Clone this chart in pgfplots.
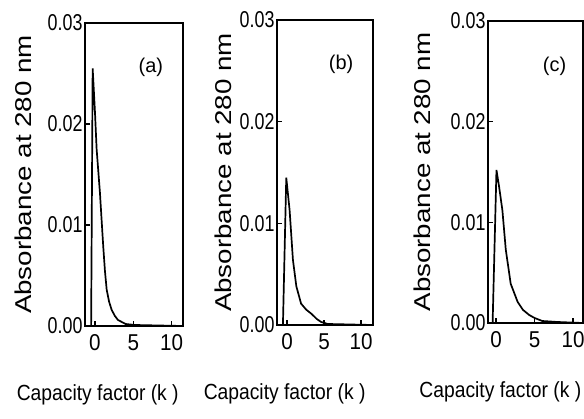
\documentclass[border=0pt]{standalone}
\usepackage{fontspec}
\setmainfont{Liberation Sans}
\usepackage{graphicx}
\usepackage{pgfplots}
\pgfplotsset{compat=1.18}

\pgfplotsset{
  panel/.style={
    scale only axis, anchor=south west,
    ymin=0, ymax=0.03,
    ytick={0,0.01,0.02,0.03}, xtick={0,5,10},
    axis line style={line width=1.8bp},
    tick style={line width=1.4bp, black},
    major tick length=5bp,
    tick align=inside,
    xtick pos=bottom, ytick pos=left,
    /pgf/number format/assume math mode=true,
    scaled y ticks=false,
    yticklabel={\scalebox{0.78}[1]{\pgfmathprintnumber[fixed,fixed zerofill,precision=2]{\tick}}},
    xticklabel={\scalebox{0.9}[1]{\pgfmathprintnumber{\tick}}},
    yticklabel style={font=\fontsize{23}{26}\selectfont, xshift=1bp},
    xticklabel style={font=\fontsize{23}{26}\selectfont, yshift=-5bp},
    xlabel={\scalebox{0.88}[1]{Capacity factor (k )}},
    ylabel={\scalebox{1.21}[1]{Absorbance at 280 nm}},
    xlabel style={font=\fontsize{22}{26}\selectfont, anchor=base, yshift=-74bp},
    ylabel style={font=\fontsize{23}{26}\selectfont, anchor=center},
  },
  curve/.style={black, line width=1.7bp, no marks},
}

\begin{document}
\begin{tikzpicture}
\useasboundingbox (0bp,0bp) rectangle (584bp,419bp);

% (a)
\begin{axis}[panel, at={(85bp,93bp)}, width=98bp, height=303bp,
  xmin=-1.3, xmax=11.5,
  xlabel style={at={(axis description cs:0.13,0)}},
  ylabel style={at={(axis description cs:-0.63,0.5)}}]
\addplot[curve] coordinates {
 (-1.3,0) (-0.5,0) (-0.3,0.0255) (0.0,0.0212) (0.22,0.0175) (0.65,0.0132)
 (1.08,0.0079) (1.3,0.0055) (1.53,0.0036) (1.85,0.0024) (2.18,0.0016)
 (2.6,0.0010) (3.0,0.0006) (4.0,0.0002) (5.2,0.0001) (11.5,0)};
\node[font=\fontsize{20}{24}\selectfont] at (axis cs:7.3,0.0256) {(a)};
\end{axis}

% (b)
\begin{axis}[panel, at={(277bp,94bp)}, width=96bp, height=305bp,
  xmin=-1.35, xmax=11.6,
  xlabel style={at={(axis description cs:0.08,0)}},
  ylabel style={at={(axis description cs:-0.56,0.5)}}]
\addplot[curve] coordinates {
 (-1.35,0) (-0.55,0) (-0.1,0.0145) (0.35,0.0113) (0.8,0.0064) (1.26,0.0038)
 (1.9,0.0021) (2.6,0.0015) (3.3,0.0011) (4.0,0.0006) (4.6,0.0003)
 (5.5,0.0001) (11.6,0)};
\node[font=\fontsize{20}{24}\selectfont] at (axis cs:7.3,0.0256) {(b)};
\end{axis}

% (c)
\begin{axis}[panel, at={(488bp,96bp)}, width=95bp, height=302bp,
  xmin=-1.05, xmax=11.3,
  xlabel style={at={(axis description cs:0.13,0)}},
  ylabel style={at={(axis description cs:-0.69,0.5)}}]
\addplot[curve] coordinates {
 (-1.05,0) (-0.45,0) (0.05,0.0152) (0.4,0.0135) (0.82,0.0112) (1.26,0.0073)
 (1.9,0.0039) (2.8,0.0021) (3.5,0.0013) (4.3,0.0008) (5.0,0.0005)
 (6.0,0.0002) (8.0,0.0001) (11.3,0)};
\node[font=\fontsize{20}{24}\selectfont] at (axis cs:7.6,0.0255) {(c)};
\end{axis}
\end{tikzpicture}
\end{document}
